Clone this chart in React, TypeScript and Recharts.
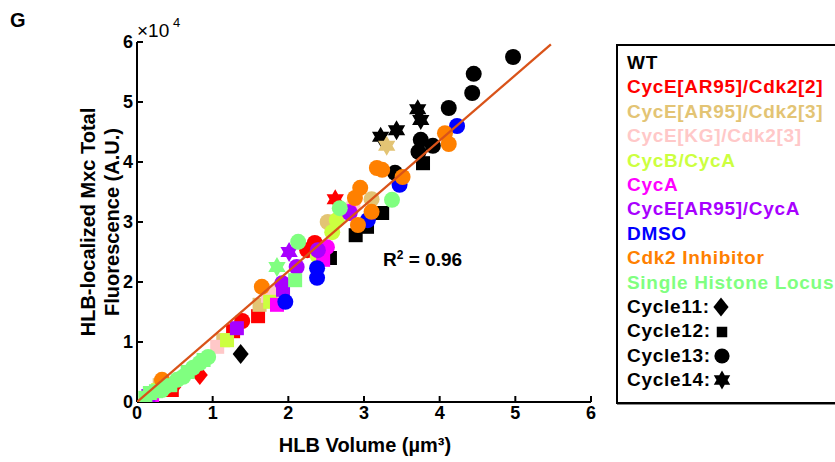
import React from "react";
import { ScatterChart, Scatter, XAxis, YAxis } from "recharts";

// [x (µm³), y (A.U.), cycle]
const wt: number[][] = [
  [1.37, 8000, 11],
  [2.55, 24000, 12], [2.89, 27800, 12], [3.04, 29200, 12], [3.24, 31500, 12], [3.78, 39800, 12],
  [4.97, 57500, 13], [4.45, 54700, 13], [4.43, 51500, 13], [4.12, 49000, 13], [3.91, 42700, 13],
  [3.75, 43700, 13], [3.72, 41700, 13], [3.41, 38200, 13],
  [3.22, 44200, 14], [3.43, 45300, 14], [3.71, 48800, 14], [3.75, 47000, 14],
];
const cycE2: number[][] = [
  [0.83, 4500, 11], [0.48, 2500, 11],
  [1.6, 14300, 12], [1.27, 11800, 12], [0.46, 2000, 12],
  [1.39, 13500, 13], [2.25, 25300, 13], [2.35, 26500, 13],
  [2.62, 33800, 14],
];
const cycE3: number[][] = [
  [0.3, 2800, 12], [1.14, 10300, 12], [1.62, 16200, 12],
  [2.52, 30000, 13], [3.1, 33800, 13],
  [3.3, 42700, 14],
];
const cycKG: number[][] = [
  [1.06, 9200, 12], [1.73, 17700, 12],
  [1.82, 18300, 13], [2.85, 32500, 13],
];
const cycBA: number[][] = [
  [0.28, 2000, 12], [1.19, 10300, 12], [1.76, 16700, 12],
  [2.39, 24300, 13], [2.58, 28300, 13], [2.64, 30300, 13],
];
const cycA: number[][] = [
  [0.2, 800, 12], [1.85, 16200, 12], [2.46, 23700, 12],
  [2.51, 25800, 13], [2.81, 31700, 13],
];
const cycEA: number[][] = [
  [0.15, 1000, 12], [1.32, 12300, 12], [1.93, 18700, 12],
  [1.92, 19800, 13], [2.11, 22500, 13], [2.39, 25300, 13], [2.81, 31500, 13],
  [2.01, 25000, 14],
];
const dmso: number[][] = [
  [1.96, 16700, 13], [2.38, 20700, 13], [2.38, 22300, 13], [3.05, 30300, 13],
  [3.47, 36200, 13], [4.23, 46000, 13],
];
const cdk2i: number[][] = [
  [0.33, 3700, 13], [1.65, 19200, 13], [2.92, 29500, 13], [3.1, 31700, 13],
  [2.88, 34000, 13], [2.95, 35700, 13], [3.51, 37500, 13], [3.24, 38700, 13],
  [3.17, 39000, 13], [4.12, 43000, 13], [4.07, 44800, 13],
];
const single: number[][] = [
  [0.11, 700, 12], [0.17, 1500, 12], [0.25, 1800, 12], [0.33, 2000, 13], [0.38, 2600, 13],
  [0.44, 2800, 12], [0.53, 3700, 13], [0.61, 4200, 13], [0.67, 5000, 12], [0.74, 5700, 13],
  [0.83, 6500, 13], [0.88, 7000, 12], [0.94, 7500, 13], [2.09, 20300, 12],
  [2.13, 26700, 13], [2.68, 32300, 13], [3.37, 33700, 13],
  [1.85, 22500, 14],
];
const fitX = [0, 5.47];
const fitY = [0, 59600];

const xTicks = [0, 1, 2, 3, 4, 5, 6];
const yTicks = [0, 10000, 20000, 30000, 40000, 50000, 60000];

const groups = [
  { name: "WT", color: "#000000", pts: wt },
  { name: "CycE[AR95]/Cdk2[2]", color: "#ff0000", pts: cycE2 },
  { name: "CycE[AR95]/Cdk2[3]", color: "#e3c474", pts: cycE3 },
  { name: "CycE[KG]/Cdk2[3]", color: "#ffc8c8", pts: cycKG },
  { name: "CycB/CycA", color: "#ccff40", pts: cycBA },
  { name: "CycA", color: "#ff00ff", pts: cycA },
  { name: "CycE[AR95]/CycA", color: "#a800ff", pts: cycEA },
  { name: "DMSO", color: "#0000ff", pts: dmso },
  { name: "Cdk2 Inhibitor", color: "#ff8000", pts: cdk2i },
  { name: "Single Histone Locus", color: "#80ff80", pts: single },
];

const cycles = [11, 12, 13, 14];

const FONT = "'Liberation Sans', Arial, sans-serif";

function hexagram(cx: number, cy: number, R: number) {
  const r = R / Math.sqrt(3);
  const pts: string[] = [];
  for (let k = 0; k < 12; k++) {
    const a = (-90 + k * 30) * (Math.PI / 180);
    const rad = k % 2 === 0 ? R : r;
    pts.push(`${cx + rad * Math.cos(a)},${cy + rad * Math.sin(a)}`);
  }
  return pts.join(" ");
}

function MarkerGlyph({ cx, cy, c, color, scale = 1 }: any) {
  if (c === 11) {
    const h = 10 * scale, w = 8 * scale;
    return <polygon points={`${cx},${cy - h} ${cx + w},${cy} ${cx},${cy + h} ${cx - w},${cy}`} fill={color} />;
  }
  if (c === 12) {
    const s = 7 * scale;
    return <rect x={cx - s} y={cy - s} width={2 * s} height={2 * s} fill={color} />;
  }
  if (c === 13) {
    return <circle cx={cx} cy={cy} r={8 * scale} fill={color} />;
  }
  return <polygon points={hexagram(cx, cy, 10 * scale)} fill={color} />;
}

const makeShape = (color: string) => (props: any) => {
  const { cx, cy, payload } = props;
  if (cx == null || cy == null) return <g />;
  return <MarkerGlyph cx={cx} cy={cy} c={payload.c} color={color} />;
};

const YTick = (props: any) => {
  const { x, y, payload } = props;
  return (
    <text x={x} y={y} dy="0.36em" textAnchor="end" fontFamily={FONT} fontWeight="bold" fontSize={18} fill="#000">
      {payload.value / 10000}
    </text>
  );
};

export default function App() {
  const fitData = fitX.map((x, i) => ({ x, y: fitY[i] }));
  return (
    <div style={{ position: "absolute", left: 0, top: 0, width: 835, height: 462, overflow: "hidden", background: "#fff" }}>
      <ScatterChart width={835} height={462} margin={{ top: 42, right: 244, bottom: 30, left: 97 }}>
        <XAxis
          type="number"
          dataKey="x"
          domain={[0, 6]}
          ticks={xTicks}
          height={30}
          axisLine={{ stroke: "#000", strokeWidth: 2 }}
          tickLine={{ stroke: "#000", strokeWidth: 2 }}
          tickSize={-6}
          tickMargin={10}
          tick={{ fill: "#000", fontSize: 18, fontWeight: "bold", fontFamily: FONT }}
          allowDataOverflow
        />
        <YAxis
          type="number"
          dataKey="y"
          domain={[0, 60000]}
          ticks={yTicks}
          width={40}
          axisLine={{ stroke: "#000", strokeWidth: 2 }}
          tickLine={{ stroke: "#000", strokeWidth: 2 }}
          tickSize={-6}
          tickMargin={10}
          tick={<YTick />}
          allowDataOverflow
        />
        {groups.map((g) => (
          <Scatter
            key={g.name}
            name={g.name}
            data={g.pts.map((p) => ({ x: p[0], y: p[1], c: p[2] }))}
            fill={g.color}
            shape={makeShape(g.color)}
            isAnimationActive={false}
          />
        ))}
        <Scatter
          name="fit"
          data={fitData}
          line={{ stroke: "#d95319", strokeWidth: 2.3 }}
          shape={() => <g />}
          isAnimationActive={false}
        />
      </ScatterChart>

      <svg width={835} height={462} style={{ position: "absolute", left: 0, top: 0, pointerEvents: "none" }}>
        <text x={10} y={27} fontFamily={FONT} fontWeight="bold" fontSize={20} fill="#000">G</text>
        <text x={137} y={37} fontFamily={FONT} fontSize={19} fill="#000">×10</text>
        <text x={173} y={27} fontFamily={FONT} fontSize={13} fill="#000">4</text>
        <text x={383} y={266} fontFamily={FONT} fontWeight="bold" fontSize={19} fill="#000">
          R<tspan fontSize={12} dy={-7}>2</tspan><tspan dy={7}> = 0.96</tspan>
        </text>
        <text x={365} y={452} textAnchor="middle" fontFamily={FONT} fontWeight="bold" fontSize={20} fill="#000">
          HLB Volume (µm³)
        </text>
        <text transform="translate(95,222) rotate(-90)" textAnchor="middle" fontFamily={FONT} fontWeight="bold" fontSize={20} fill="#000">
          HLB-localized Mxc Total
        </text>
        <text transform="translate(119,222) rotate(-90)" textAnchor="middle" fontFamily={FONT} fontWeight="bold" fontSize={20} fill="#000">
          Fluorescence (A.U.)
        </text>
      </svg>

      <div
        style={{
          position: "absolute",
          left: 616,
          top: 44,
          width: 260,
          height: 351,
          border: "2px solid #000",
          boxShadow: "1px 1px 0 #888",
          fontFamily: FONT,
          fontWeight: "bold",
          fontSize: 19,
          lineHeight: "24.4px",
          paddingTop: 5,
          paddingLeft: 9,
          boxSizing: "content-box",
          background: "#fff",
        }}
      >
        {groups.map((g) => (
          <div key={g.name} style={{ color: g.color, whiteSpace: "nowrap", letterSpacing: 0.7 }}>{g.name}</div>
        ))}
        {cycles.map((c) => (
          <div key={c} style={{ color: "#000", whiteSpace: "nowrap", display: "flex", alignItems: "center", letterSpacing: 0.7 }}>
            <span>Cycle{c}:</span>
            <svg width={20} height={20} style={{ marginLeft: 2 }}>
              <MarkerGlyph cx={9} cy={10} c={c} color="#000" scale={c === 12 ? 0.75 : 0.95} />
            </svg>
          </div>
        ))}
      </div>
    </div>
  );
}
